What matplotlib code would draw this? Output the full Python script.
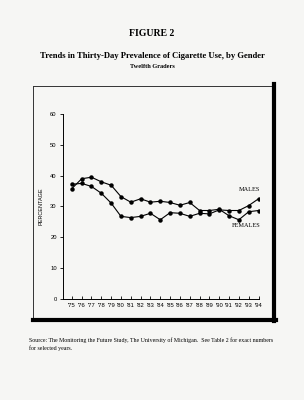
import matplotlib
matplotlib.use("Agg")
import matplotlib.pyplot as plt
from matplotlib.lines import Line2D

years = list(range(1975, 1995))
tick_labels = ["'75", "'76", "'77", "'78", "'79", "'80", "'81", "'82", "'83", "'84",
               "'85", "'86", "'87", "'88", "'89", "'90", "'91", "'92", "'93", "'94"]
males = [37.2, 37.5, 36.5, 34.3, 31.1, 26.8, 26.4, 26.8, 27.8, 25.7,
         28.0, 27.8, 26.8, 27.8, 27.6, 28.9, 28.7, 28.7, 30.3, 32.5]
females = [35.8, 39.0, 39.5, 38.0, 36.9, 33.2, 31.4, 32.5, 31.4, 31.7,
           31.3, 30.4, 31.3, 28.7, 28.7, 29.1, 27.0, 25.7, 28.3, 28.7]
yticks = [0, 10, 20, 30, 40, 50, 60]

serif = ["Liberation Serif", "DejaVu Serif"]
sans = ["Liberation Sans", "DejaVu Sans"]
W, H = 304, 400

fig = plt.figure(figsize=(3.04, 4.0), dpi=100)
fig.patch.set_facecolor("#f6f6f4")

# page frame: thin top/left, heavy right/bottom
def fx(px): return px / W
def fy(py): return 1 - py / H
fig.add_artist(Line2D([fx(33), fx(274)], [fy(86), fy(86)], color="#333333", lw=0.7))
fig.add_artist(Line2D([fx(33), fx(33)], [fy(86), fy(320)], color="#333333", lw=0.7))
fig.add_artist(Line2D([fx(274), fx(274)], [fy(84), fy(321)], color="black", lw=3.0))
fig.add_artist(Line2D([fx(33), fx(275.5)], [fy(320), fy(320)], color="black", lw=3.0))

fig.text(0.5, fy(33), "FIGURE 2", ha="center", va="center", fontsize=7,
         fontweight="bold", family=serif)
fig.text(0.5, fy(56), "Trends in Thirty-Day Prevalence of Cigarette Use, by Gender",
         ha="center", va="center", fontsize=6.2, fontweight="bold", family=serif)
fig.text(0.5, fy(66), "Twelfth Graders", ha="center", va="center", fontsize=4.6,
         fontweight="bold", family=serif)

ax = fig.add_axes([fx(63), fy(299), fx(259) - fx(63), fy(114) - fy(299)])
ax.set_facecolor("none")
ax.plot(years, males, color="black", lw=0.8, marker="o", ms=2.2)
ax.plot(years, females, color="black", lw=0.8, marker="o", ms=2.2)

ax.set_xlim(1974.1, 1994.05)
ax.set_ylim(0, 60)
ax.set_yticks(yticks)
ax.set_xticks(years)
ax.set_xticklabels(tick_labels, family=sans, fontsize=4.2)
ax.set_yticklabels([str(v) for v in yticks], family=sans, fontsize=4.2)
ax.tick_params(axis="y", direction="out", length=2.5, width=0.6, pad=2)
ax.tick_params(axis="x", direction="in", length=2.5, width=0.6, pad=3)
for s in ["top", "right"]:
    ax.spines[s].set_visible(False)
for s in ["left", "bottom"]:
    ax.spines[s].set_linewidth(0.7)
ax.set_ylabel("PERCENTAGE", family=sans, fontsize=4.0, labelpad=5)

ax.text(1993.1, 35.5, "MALES", ha="center", va="center", fontsize=4.5, family=serif)
ax.text(1992.7, 23.8, "FEMALES", ha="center", va="center", fontsize=4.5, family=serif)

fig.text(fx(29), fy(340), "Source: The Monitoring the Future Study, The University of Michigan.  "
         "See Table 2 for exact numbers", ha="left", va="center", fontsize=4.2, family=serif)
fig.text(fx(29), fy(348), "for selected years.", ha="left", va="center", fontsize=4.2,
         family=serif)

fig.savefig("out.png", dpi=100, facecolor=fig.get_facecolor())
